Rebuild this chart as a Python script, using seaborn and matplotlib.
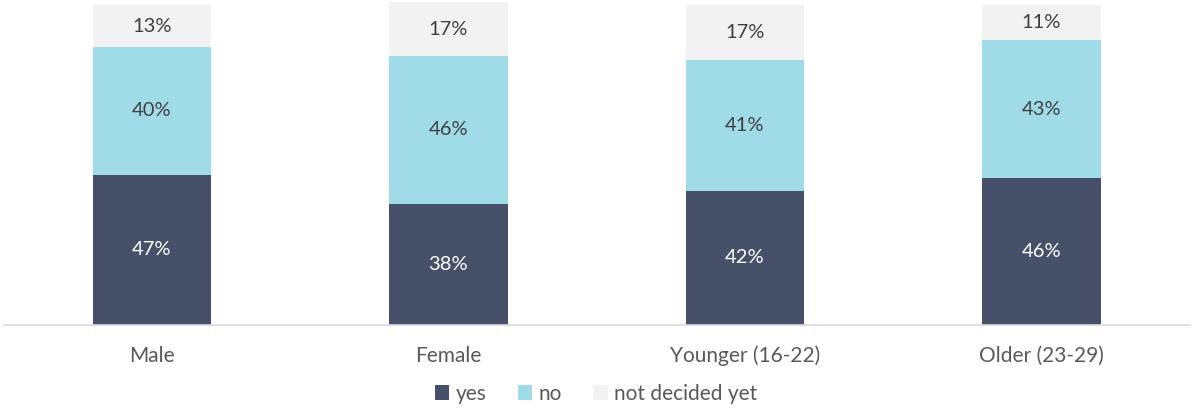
import pandas as pd
import matplotlib
matplotlib.use("Agg")
import matplotlib.pyplot as plt
import seaborn as sns
from matplotlib.patches import Patch

# data
groups = ["Male", "Female", "Younger (16-22)", "Older (23-29)"]
yes = [47, 38, 42, 46]
no = [40, 46, 41, 43]
undecided = [13, 17, 17, 11]

series = ["yes", "no", "not decided yet"]
colors = {"yes": "#465068", "no": "#A0DCE8", "not decided yet": "#F2F2F2"}
label_colors = {"yes": "white", "no": "#404040", "not decided yet": "#404040"}
text_color = "#595959"

df = pd.DataFrame({"group": groups, "yes": yes, "no": no, "not decided yet": undecided})
df["cum_yes"] = df["yes"]
df["cum_no"] = df["yes"] + df["no"]
df["cum_nd"] = df["cum_no"] + df["not decided yet"]

sns.set_style("white")
plt.rcParams["font.family"] = ["Lato", "DejaVu Sans"]

fig = plt.figure(figsize=(11.92, 4.12), dpi=100)
ax = fig.add_axes([0.003, 0.211, 0.995, 0.784])

# stacked bars: draw totals first, then overlay the lower layers
for col, name in [("cum_nd", "not decided yet"), ("cum_no", "no"), ("cum_yes", "yes")]:
    sns.barplot(data=df, x="group", y=col, color=colors[name], width=0.4,
                saturation=1, ax=ax, errorbar=None, linewidth=0)

# segment labels
for i, row in df.iterrows():
    bottoms = [0, row["cum_yes"], row["cum_no"]]
    for b, name in zip(bottoms, series):
        v = row[name]
        ax.text(i, b + v / 2, f"{v}%", ha="center", va="center",
                fontsize=14.5, color=label_colors[name])

ax.set_ylim(0, 101)
ax.set_xlim(-0.5, 3.5)
ax.set_xlabel("")
ax.set_ylabel("")
ax.set_yticks([])
ax.tick_params(axis="x", length=0, pad=15, labelsize=15, labelcolor=text_color)
for s in ["top", "left", "right"]:
    ax.spines[s].set_visible(False)
ax.spines["bottom"].set_color("#D9D9D9")
ax.spines["bottom"].set_linewidth(1.2)

handles = [Patch(facecolor=colors[s], edgecolor="none") for s in series]
fig.legend(handles, series, loc="lower center", bbox_to_anchor=(0.5, -0.025), ncol=3,
           frameon=False, fontsize=15, labelcolor=text_color, handlelength=0.7,
           handleheight=0.7, handletextpad=0.3, columnspacing=1.5)

fig.savefig("out.png", dpi=100)
